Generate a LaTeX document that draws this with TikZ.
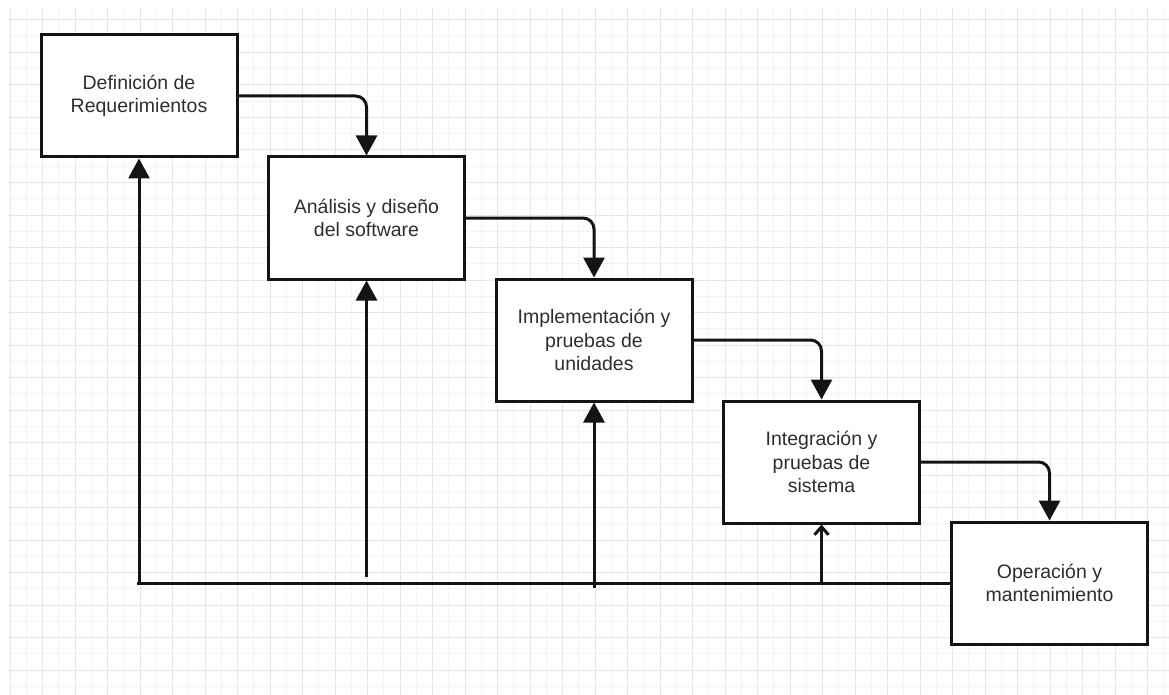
\documentclass[tikz,border=0pt]{standalone}
\usepackage{fontspec}
\setmainfont{Liberation Sans}
\usetikzlibrary{arrows.meta}
\definecolor{gmaj}{HTML}{E5E5EE}
\definecolor{gmin}{HTML}{F4F4F8}
\definecolor{ink}{HTML}{141414}
\definecolor{txt}{HTML}{2E2E2E}
\begin{document}
\begin{tikzpicture}[x=1pt,y=-1pt,
  box/.style={draw=ink, line width=3pt, fill=white, minimum width=196pt,
    minimum height=122pt, align=center, inner sep=0pt, text=txt,
    font=\fontsize{19.5}{23.5}\selectfont},
  flow/.style={draw=ink, line width=3pt, rounded corners=11pt,
    -{Triangle[length=20pt,width=21pt]}},
  fb/.style={draw=ink, line width=3pt, -{Triangle[length=20pt,width=21pt]}},
  fbopen/.style={draw=ink, line width=3pt, -{Straight Barb[length=8pt,width=14pt]}},
  plain/.style={draw=ink, line width=3pt},
  gridmaj/.style={draw=gmaj, line width=1pt},
  gridmin/.style={draw=gmin, line width=1pt}
]
\useasboundingbox (0,0) rectangle (1169,695);
\fill[white] (0,0) rectangle (1169,695);
% grid
\foreach \k in {0,...,35} {
  \draw[gridmin] ({26.25+32.5*\k},8) -- ({26.25+32.5*\k},695);
}
\foreach \k in {0,...,20} {
  \draw[gridmin] (8,{36.25+32.5*\k}) -- (1169,{36.25+32.5*\k});
}
\foreach \k in {0,...,35} {
  \draw[gridmaj] ({10+32.5*\k},8) -- ({10+32.5*\k},695);
}
\foreach \k in {0,...,20} {
  \draw[gridmaj] (8,{20+32.5*\k}) -- (1169,{20+32.5*\k});
}
% boxes
\node[box] (d1) at (139,96) {Definición de\\Requerimientos};
\node[box] (d2) at (366.5,218) {Análisis y diseño\\del software};
\node[box] (d3) at (594,340) {Implementación y\\pruebas de\\unidades};
\node[box] (d4) at (821.5,462) {Integración y\\pruebas de\\sistema};
\node[box] (d5) at (1049.5,583) {Operación y\\mantenimiento};
% forward flow
\draw[flow] (d1.east) -| (d2.north);
\draw[flow] (d2.east) -| (d3.north);
\draw[flow] (d3.east) -| (d4.north);
\draw[flow] (d4.east) -| (d5.north);
% feedback
\coordinate (b0) at (137,583);
\coordinate (f1) at (139,583);
\coordinate (f2) at (366.5,577);
\coordinate (f3) at (594,588);
\coordinate (f4) at (821.5,583);
\draw[plain] (b0) -- (d5.west);
\draw[fb] (f1) -- (d1.south);
\draw[fb] (f2) -- (d2.south);
\draw[fb] (f3) -- (d3.south);
\draw[fbopen] (f4) -- (d4.south);
\end{tikzpicture}
\end{document}
